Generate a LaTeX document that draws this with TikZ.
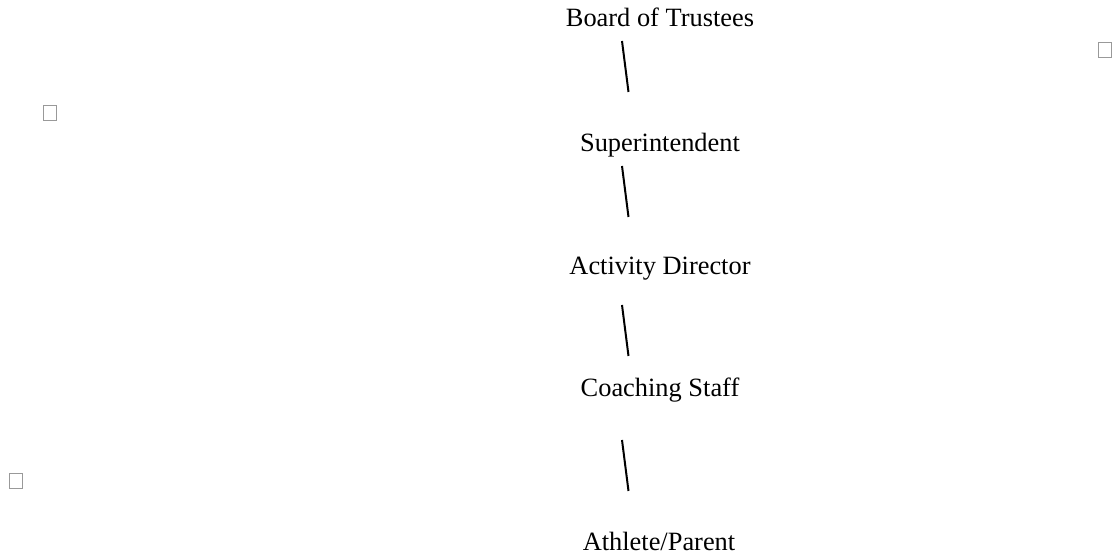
\documentclass[tikz,border=0pt]{standalone}
\usepackage{fontspec}
\setmainfont{Liberation Serif}
\begin{document}
\begin{tikzpicture}[x=0.5pt,y=-0.5pt,
    role/.style={anchor=base,inner sep=0pt,font=\fontsize{13.2}{15}\selectfont},
    link/.style={line width=1pt},
    mark box/.style={draw=black!40,line width=0.4pt,minimum width=6.5pt,minimum height=7.5pt,inner sep=0pt}]
            \useasboundingbox (0,0) rectangle (1120,560);

            \node[role] (A) at (660,27) {Board of Trustees};
            \node[role] (B) at (660,152) {Superintendent};
            \node[role] (C) at (660,275) {Activity Director};
            \node[role] (D) at (660,397) {Coaching Staff};
            \node[role] (E) at (659,551) {Athlete/Parent};

            \coordinate (a1) at (622,41);  \coordinate (a2) at (628.5,92);
            \coordinate (b1) at (622,166); \coordinate (b2) at (628.5,217);
            \coordinate (c1) at (622,305); \coordinate (c2) at (628.5,356);
            \coordinate (d1) at (622,440); \coordinate (d2) at (628.5,491);

            \draw[link] (a1) -- (a2);
            \draw[link] (b1) -- (b2);
            \draw[link] (c1) -- (c2);
            \draw[link] (d1) -- (d2);

            \node[mark box] (m1) at (1105,49.5) {};
            \node[mark box] (m2) at (49.5,113) {};
            \node[mark box] (m3) at (16,480.5) {};
\end{tikzpicture}
\end{document}
